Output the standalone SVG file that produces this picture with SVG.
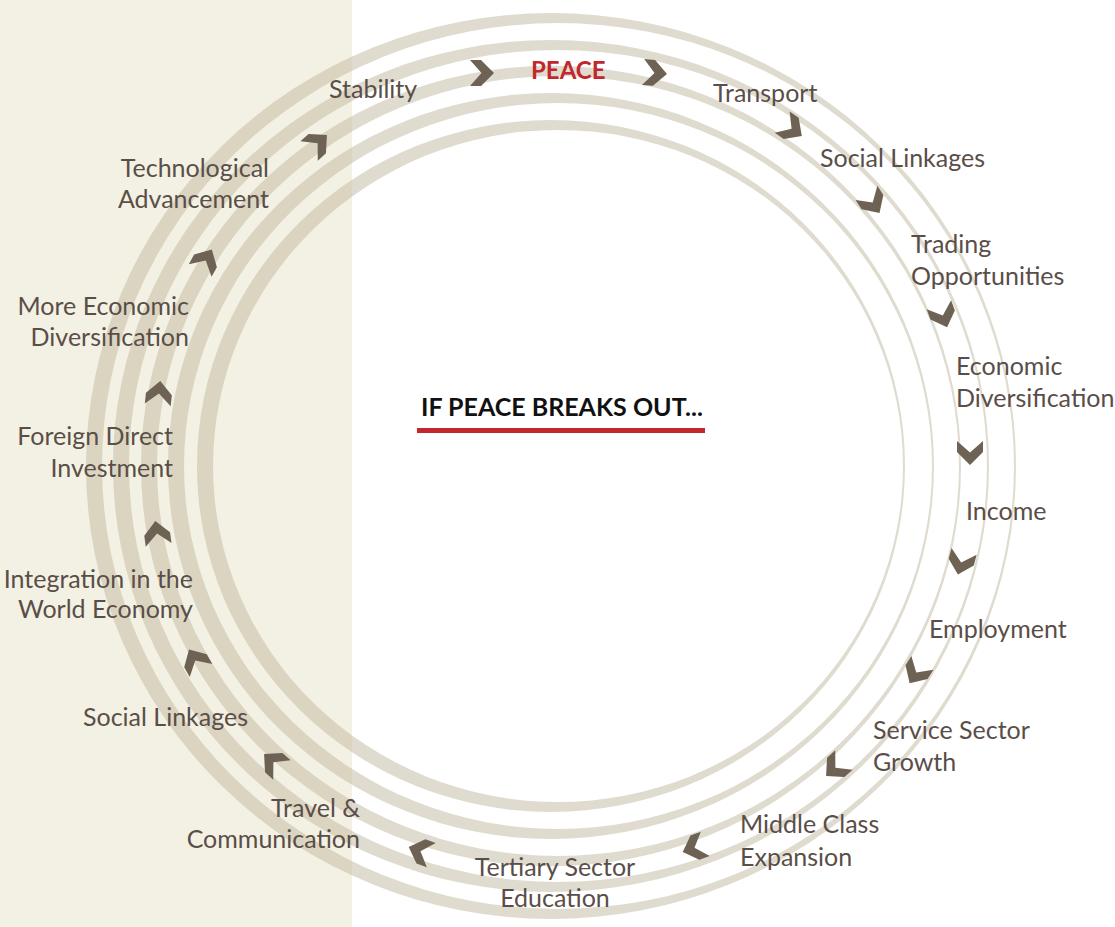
<svg xmlns="http://www.w3.org/2000/svg" xmlns:xlink="http://www.w3.org/1999/xlink" width="1115" height="927" viewBox="0 0 1115 927">
<style>
.lbl{font-family:Lato,"Open Sans","Liberation Sans",sans-serif;font-size:25px;fill:#5a4e48}
.e{text-anchor:end}
.m{text-anchor:middle}
.ring{fill:#c2b79f;fill-opacity:0.5;fill-rule:evenodd}
.chev{fill:#6d6254}
.title{font-family:Lato,"Liberation Sans",sans-serif;font-weight:700;font-size:25px;fill:#111}
.peace{font-family:Lato,"Liberation Sans",sans-serif;font-weight:700;font-size:24px;fill:#c1272d}
</style>
<defs>
<path id="chv" d="M-12,-13 L-1,-13 L12,0 L-1,13 L-12,13 L-0.5,0 Z"/>
</defs>
<rect x="0" y="0" width="1115" height="927" fill="#ffffff"/>
<rect x="0" y="0" width="352" height="927" fill="#f3f1e3"/>
<g id="rings">
<path class="ring" d="M86,466 a465,453 0 1,0 930,0 a465,453 0 1,0 -930,0 Z M102,466 a456,443 0 1,0 912,0 a456,443 0 1,0 -912,0 Z"/>
<path class="ring" d="M113,466 a438,426 0 1,0 876,0 a438,426 0 1,0 -876,0 Z M129,466 a429,416 0 1,0 858,0 a429,416 0 1,0 -858,0 Z"/>
<path class="ring" d="M141,466 a410,400 0 1,0 820,0 a410,400 0 1,0 -820,0 Z M157,466 a401,390 0 1,0 802,0 a401,390 0 1,0 -802,0 Z"/>
<path class="ring" d="M168,466 a383,373 0 1,0 766,0 a383,373 0 1,0 -766,0 Z M184,466 a374,363 0 1,0 748,0 a374,363 0 1,0 -748,0 Z"/>
<path class="ring" d="M197,466 a354,346 0 1,0 708,0 a354,346 0 1,0 -708,0 Z M213,466 a345,336 0 1,0 690,0 a345,336 0 1,0 -690,0 Z"/>
</g>
<g id="connectors">
<use xlink:href="#chv" class="chev" transform="translate(482,73) rotate(0)"/>
<use xlink:href="#chv" class="chev" transform="translate(655,73) rotate(5)"/>
<use xlink:href="#chv" class="chev" transform="translate(792,129) rotate(35)"/>
<use xlink:href="#chv" class="chev" transform="translate(873,203) rotate(57)"/>
<use xlink:href="#chv" class="chev" transform="translate(943,316) rotate(70)"/>
<use xlink:href="#chv" class="chev" transform="translate(970,453) rotate(90)"/>
<use xlink:href="#chv" class="chev" transform="translate(961,563) rotate(105)"/>
<use xlink:href="#chv" class="chev" transform="translate(916,673) rotate(122)"/>
<use xlink:href="#chv" class="chev" transform="translate(835,768) rotate(138)"/>
<use xlink:href="#chv" class="chev" transform="translate(694,848) rotate(160)"/>
<use xlink:href="#chv" class="chev" transform="translate(420,851) rotate(200)"/>
<use xlink:href="#chv" class="chev" transform="translate(273,762) rotate(222)"/>
<use xlink:href="#chv" class="chev" transform="translate(195,660) rotate(240)"/>
<use xlink:href="#chv" class="chev" transform="translate(157,533) rotate(262)"/>
<use xlink:href="#chv" class="chev" transform="translate(159,393) rotate(276)"/>
<use xlink:href="#chv" class="chev" transform="translate(206,260) rotate(299)"/>
<use xlink:href="#chv" class="chev" transform="translate(318,143) rotate(318)"/>
</g>
<g id="title">
<text class="title" x="421" y="416">IF PEACE BREAKS OUT...</text>
<rect x="417" y="428" width="288" height="5" fill="#c1272d"/>
</g>
<g id="n-peace"><text class="peace" x="531" y="79">PEACE</text></g>
<g id="n-transport"><text class="lbl" x="713" y="102">Transport</text></g>
<g id="n-social1"><text class="lbl" x="820" y="167">Social Linkages</text></g>
<g id="n-trading"><text class="lbl" x="911" y="253">Trading</text><text class="lbl" x="911" y="285">Opportunities</text></g>
<g id="n-econdiv"><text class="lbl" x="956" y="375">Economic</text><text class="lbl" x="956" y="407">Diversification</text></g>
<g id="n-income"><text class="lbl" x="966" y="520">Income</text></g>
<g id="n-employment"><text class="lbl" x="929" y="638">Employment</text></g>
<g id="n-service"><text class="lbl" x="873" y="739">Service Sector</text><text class="lbl" x="873" y="771">Growth</text></g>
<g id="n-middle"><text class="lbl" x="740" y="833">Middle Class</text><text class="lbl" x="740" y="866">Expansion</text></g>
<g id="n-tertiary"><text class="lbl m" x="555" y="876">Tertiary Sector</text><text class="lbl m" x="555" y="907">Education</text></g>
<g id="n-travel"><text class="lbl e" x="360" y="817">Travel &amp;</text><text class="lbl e" x="360" y="848">Communication</text></g>
<g id="n-social2"><text class="lbl" x="83" y="726">Social Linkages</text></g>
<g id="n-integration"><text class="lbl e" x="193" y="588">Integration in the</text><text class="lbl e" x="193" y="618">World Economy</text></g>
<g id="n-fdi"><text class="lbl e" x="173" y="445">Foreign Direct</text><text class="lbl e" x="173" y="477">Investment</text></g>
<g id="n-moreecon"><text class="lbl e" x="189" y="315">More Economic</text><text class="lbl e" x="189" y="346">Diversification</text></g>
<g id="n-tech"><text class="lbl e" x="269" y="177">Technological</text><text class="lbl e" x="269" y="208">Advancement</text></g>
<g id="n-stability"><text class="lbl" x="329" y="98">Stability</text></g>
</svg>
